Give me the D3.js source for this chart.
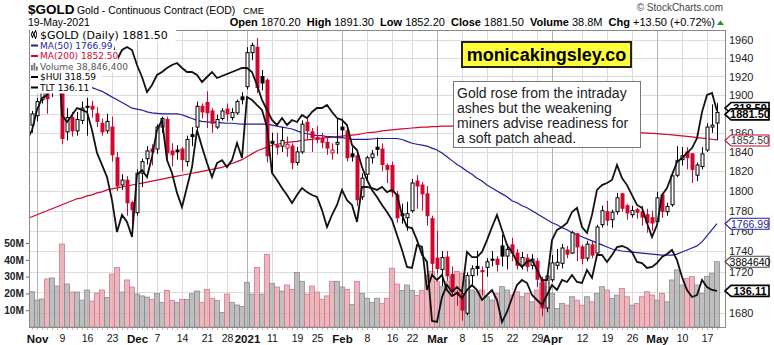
<!DOCTYPE html>
<html><head><meta charset="utf-8">
<script src="https://cdn.jsdelivr.net/npm/d3@7/dist/d3.min.js"></script>
<style>
html,body{margin:0;padding:0;background:#fff;}
svg{display:block;font-family:"Liberation Sans",Arial,sans-serif;}
</style></head><body>
<svg id="chart" width="774" height="345"></svg>
<script>
// Trading days shown on the chart
const dates = [
"2020-10-29","2020-10-30",
"2020-11-02","2020-11-03","2020-11-04","2020-11-05","2020-11-06","2020-11-09","2020-11-10","2020-11-11","2020-11-12","2020-11-13",
"2020-11-16","2020-11-17","2020-11-18","2020-11-19","2020-11-20","2020-11-23","2020-11-24","2020-11-25","2020-11-27","2020-11-30",
"2020-12-01","2020-12-02","2020-12-03","2020-12-04","2020-12-07","2020-12-08","2020-12-09","2020-12-10","2020-12-11","2020-12-14",
"2020-12-15","2020-12-16","2020-12-17","2020-12-18","2020-12-21","2020-12-22","2020-12-23","2020-12-24","2020-12-28","2020-12-29",
"2020-12-30","2020-12-31",
"2021-01-04","2021-01-05","2021-01-06","2021-01-07","2021-01-08","2021-01-11","2021-01-12","2021-01-13","2021-01-14","2021-01-15",
"2021-01-19","2021-01-20","2021-01-21","2021-01-22","2021-01-25","2021-01-26","2021-01-27","2021-01-28","2021-01-29",
"2021-02-01","2021-02-02","2021-02-03","2021-02-04","2021-02-05","2021-02-08","2021-02-09","2021-02-10","2021-02-11","2021-02-12",
"2021-02-16","2021-02-17","2021-02-18","2021-02-19","2021-02-22","2021-02-23","2021-02-24","2021-02-25","2021-02-26",
"2021-03-01","2021-03-02","2021-03-03","2021-03-04","2021-03-05","2021-03-08","2021-03-09","2021-03-10","2021-03-11","2021-03-12",
"2021-03-15","2021-03-16","2021-03-17","2021-03-18","2021-03-19","2021-03-22","2021-03-23","2021-03-24","2021-03-25","2021-03-26",
"2021-03-29","2021-03-30","2021-03-31",
"2021-04-01","2021-04-05","2021-04-06","2021-04-07","2021-04-08","2021-04-09","2021-04-12","2021-04-13","2021-04-14","2021-04-15",
"2021-04-16","2021-04-19","2021-04-20","2021-04-21","2021-04-22","2021-04-23","2021-04-26","2021-04-27","2021-04-28","2021-04-29",
"2021-04-30",
"2021-05-03","2021-05-04","2021-05-05","2021-05-06","2021-05-07","2021-05-10","2021-05-11","2021-05-12","2021-05-13","2021-05-14",
"2021-05-17","2021-05-18","2021-05-19"];

const priorClose = 1879.2;

const open = [1877,1868,
1878,1895,1908,1905,1947,1955,1861,1876,1862,1873,1888,1888,1880,1870,1862,1866,1834,1806,1811,1788,
1778,1818,1833,1843,1843,1866,1874,1841,1842,1843,1830,1858,1866,1888,1892,1883,1866,1875,1885,1876,1881,1898,
1909,1946,1952,1920,1916,1851,1847,1846,1844,1846,1829,1840,1871,1861,1855,1854,1850,1839,1848,
1866,1862,1838,1836,1794,1817,1834,1845,1843,1826,1826,1796,1777,1773,1780,1810,1806,1797,1772,
1733,1722,1734,1717,1700,1699,1680,1716,1725,1721,1724,1732,1732,1745,1735,1746,1738,1726,1733,1726,1730,1712,1685,
1712,1726,1728,1741,1738,1757,1744,1733,1746,1738,1766,1779,1771,1779,1797,1785,1776,1781,1779,1776,1773,
1769,1796,1779,1786,1816,1832,1840,1838,1816,1825,1842,1866,1870.2];

const high = [1880,1883,
1897,1913,1920,1952,1965,1966,1886,1882,1882,1893,1897,1894,1887,1875,1880,1877,1840,1817,1815,1790,
1822,1833,1846,1848,1869,1877,1877,1849,1847,1845,1857,1866,1893,1891,1904,1886,1879,1886,1891,1886,1895,1903,
1952,1957,1962,1927,1918,1860,1860,1866,1856,1849,1845,1873,1875,1865,1867,1860,1856,1849,1875,
1875,1864,1845,1839,1818,1836,1842,1855,1849,1828,1830,1800,1787,1789,1812,1816,1809,1805,1775,
1760,1740,1740,1725,1702,1701,1719,1726,1740,1725,1733,1740,1735,1756,1747,1753,1742,1739,1737,1737,1733,1715,1718,
1736,1742,1747,1745,1760,1758,1746,1750,1750,1766,1785,1790,1781,1798,1798,1787,1785,1783,1785,1782,1780,
1799,1798,1788,1817,1846,1845,1845,1839,1829,1845,1870,1890,1891.3];

const low = [1859,1860,
1872,1891,1880,1898,1936,1848,1852,1856,1857,1869,1857,1876,1866,1857,1859,1830,1800,1801,1775,1767,
1775,1804,1827,1826,1838,1860,1832,1825,1832,1820,1825,1846,1862,1875,1865,1860,1864,1873,1872,1873,1879,1890,
1906,1938,1902,1905,1829,1818,1837,1840,1835,1822,1826,1838,1853,1840,1849,1844,1837,1832,1838,
1855,1830,1830,1785,1791,1810,1828,1836,1820,1808,1794,1768,1767,1760,1778,1782,1780,1765,1717,
1718,1706,1711,1697,1687,1673,1678,1707,1716,1697,1715,1725,1720,1725,1722,1730,1722,1722,1720,1722,1705,1677,1681,
1710,1722,1723,1733,1737,1730,1727,1730,1733,1735,1763,1765,1763,1776,1779,1771,1773,1772,1765,1758,1760,
1766,1773,1775,1784,1814,1826,1822,1808,1810,1822,1840,1860,1852.2];

const close = [1867,1879.9,
1893,1910,1896,1946,1951,1854,1876,1862,1874,1886,1887.5,1885,1872,1861,1872,1837,1805,1811,1788,1781,
1818,1830,1841,1840,1866,1875,1839,1837,1840,1832,1853,1856,1888,1882,1881,1870,1874,1883,1880,1881.5,1893,1895,
1946,1954,1908,1913,1836,1849,1845,1852,1848,1829,1840,1869,1862,1855,1853,1850,1844,1842,1850,
1863,1834,1835,1791,1813,1834,1838,1842.7,1827,1822,1799,1773,1775,1777,1808,1805,1797,1775,1728,
1723,1733.6,1715.8,1700.7,1698.5,1683,1716,1722.7,1722.9,1719.8,1729.5,1731,1727,1735,1741.6,1738,1726,1733.6,1725,1732,1712.5,1685,1715.6,
1728.4,1729,1743,1737,1758,1744,1732.7,1746.8,1736,1763.7,1780,1770.5,1778.5,1793,1782.5,1777.8,1780.2,1778.5,1773.6,1768,1767.7,
1793,1779.4,1784.3,1815.4,1831,1836,1834,1822,1826.5,1838,1866,1868,1881.5];

// Daily volume, millions of contracts
const volume = [22,21,
16,16.7,28.6,29.2,24.4,49.4,25.6,20.8,20.8,16,22,15.4,20.2,22,17.6,31.5,35.5,20.8,28,23.8,
19.6,18.5,17.8,16.5,20,14.7,21.8,15.9,14.7,16.5,16.5,19.8,21.4,14.7,22.4,17.1,15.9,8.7,19.6,14.7,13.1,12.3,
26.6,19.6,35.5,19.6,43.3,26,23.8,21.4,25,22.4,32.5,27.2,19.6,24.4,20.8,16.5,18.5,27.2,27.2,
23.8,22.4,13.3,27.2,20,17.1,14.7,17.1,14.1,17.1,35,25.6,21.8,25,21.8,18.8,21.8,30.8,33,
27,24,27,30,33,32,28,22,21,22,18,16,20,24,22,19,21,18,20,15,22,26,24,
20,11,14,13,18,16,13,18,15,20,24,22,17,19,23,18,13,14,18,21,19,
16,20,15,28,34,25,29,30,25,20,30,32,38.8464];

const ma50 = [1912,1912,
1911,1911,1911,1911,1911,1910,1910,1910,1910,1909,1909,1908,1906,1904,1901,1898,1895,1892,1889,1886,
1885,1884,1882,1881,1880.5,1880,1880,1880,1880,1879,1877,1875,1873,1872,1871.5,1871,1871,1870.5,1870,1870,1869.5,1869,
1869,1869,1869,1869,1869,1868,1867,1866,1865,1864,1862,1860,1859,1858,1857,1857,1856,1856,1855,
1855,1854,1853,1853,1853,1853,1853.5,1854,1854,1854,1854,1854,1853,1851,1849,1848,1847,1846,1844,
1842,1839,1835,1831,1827,1824,1820,1817,1813,1810,1806,1803,1800,1797,1794,1790,1788,1785,1783,1780,1777,1774,1771,
1768,1766,1763,1761,1758,1756,1754,1752,1750,1748,1746,1744,1742,1741,1740,1739.5,1739,1738.5,1738,1737.5,1737,
1736.5,1736,1736,1736,1737,1739,1741,1743,1745,1749,1755,1761,1766.99];

const ma200 = [1772,1774,
1776,1778,1780,1782,1784,1786,1788,1790,1792,1793,1795,1796,1798,1799,1801,1802,1803,1804,1805,1806,
1807,1808,1809,1810,1811,1812,1813,1814,1815,1816,1817,1818,1819,1820,1821,1822,1823,1824,1826,1828,1830,1832,
1835,1838,1841,1843,1845,1847,1848,1849,1850,1850.5,1851,1852,1852.5,1853,1854,1854.5,1855,1855.5,1856,
1856.5,1857,1857.5,1858,1859,1860,1860.5,1861,1862,1862.5,1863,1863.5,1864,1864.5,1865,1865.5,1866,1866,1866.5,
1866.5,1867,1867,1867,1867,1867,1867,1867,1867,1867,1867,1866.8,1866.6,1866.4,1866.2,1866,1865.8,1865.6,1865.4,1865.2,1865,1864.8,1864.6,
1864.4,1864.2,1864,1863.8,1863.6,1863.4,1863.2,1863,1862.8,1862.5,1862.2,1862,1861.7,1861.4,1861.1,1860.8,1860.5,1860.2,1859.9,1859.6,1859.3,
1859,1858.6,1858.2,1857.8,1857.3,1856.8,1856.2,1855.6,1855,1854.4,1853.8,1853.2,1852.5];

// Gold miners index and 20+ year Treasury ETF overlays
const hui = [307.8,311.5,
319.0,323.4,324.6,343.2,345.8,317.1,314.5,317.1,319.7,319.0,318.2,311.5,303.0,298.5,294.0,285.4,273.5,279.9,277.3,271.7,
294.8,296.6,294.0,301.5,311.5,315.2,300.3,295.5,288.1,282.8,290.3,297.7,311.5,305.2,299.2,294.0,299.2,300.3,297.7,300.3,306.7,301.1,
323.8,322.7,320.8,319.0,312.6,295.5,292.9,289.9,287.3,284.3,287.3,289.9,288.4,287.3,286.6,281.7,275.4,279.9,283.6,
289.2,285.4,283.6,277.3,290.3,290.3,289.9,289.2,290.3,288.4,289.2,287.3,279.9,275.4,275.0,270.5,265.0,262.4,240.4,
240.0,249.3,253.8,251.2,253.0,251.2,266.1,264.2,264.2,266.1,270.5,275.4,279.9,274.3,268.7,266.1,262.4,260.5,262.4,263.1,259.4,255.6,255.6,
270.5,274.3,275.4,276.9,281.0,282.5,275.4,273.2,279.9,289.2,291.0,291.8,292.9,298.5,293.6,291.0,287.3,283.6,282.5,276.9,271.7,
276.1,287.3,289.9,294.8,299.6,301.1,303.0,304.8,308.5,318.2,324.6,325.3,318.59];

const tlt = [158.2,158.0,
158.2,157.7,161.2,161.4,160.0,156.7,156.2,156.4,159.2,159.4,159.0,160.0,160.2,160.4,160.7,161.0,159.2,160.2,160.5,160.2,
158.7,157.5,156.0,156.7,157.7,158.0,158.4,158.7,158.9,158.4,158.0,158.0,157.7,157.0,157.5,158.0,157.4,157.6,157.8,158.0,158.2,158.4,
158.4,158.0,156.7,155.2,154.2,153.2,152.7,153.4,152.7,153.2,153.0,153.7,153.4,154.0,154.4,154.4,154.7,154.0,153.4,
153.2,152.7,150.7,150.2,148.5,147.2,146.2,145.5,144.7,144.0,143.2,141.7,140.2,138.5,138.4,140.7,140.5,136.2,137.7,
137.2,137.7,136.2,135.6,135.9,135.4,136.2,136.7,136.2,135.2,135.7,136.2,135.2,133.0,134.0,135.4,136.7,137.2,136.9,135.7,135.2,134.7,135.7,
136.7,136.2,137.2,137.0,137.7,137.0,136.9,138.2,137.4,139.7,139.7,139.0,139.7,140.5,140.6,140.4,140.0,139.0,138.9,138.4,138.5,
138.9,139.5,139.8,140.2,139.2,137.5,136.2,135.5,135.7,137.2,136.5,136.2,136.11];

const priceTicks = [1680,1700,1720,1740,1760,1780,1800,1820,1840,1860,1880,1900,1920,1940,1960];
const volumeTicks = [10,20,30,40,50];
const dateLabels = [
["2020-11-02","Nov",true],["2020-11-09","9",false],["2020-11-16","16",false],["2020-11-23","23",false],
["2020-12-01","Dec",true],["2020-12-07","7",false],["2020-12-14","14",false],["2020-12-21","21",false],["2020-12-28","28",false],
["2021-01-04","2021",true],["2021-01-11","11",false],["2021-01-19","19",false],["2021-01-25","25",false],
["2021-02-01","Feb",true],["2021-02-08","8",false],["2021-02-16","16",false],["2021-02-22","22",false],
["2021-03-01","Mar",true],["2021-03-08","8",false],["2021-03-15","15",false],["2021-03-22","22",false],["2021-03-29","29",false],
["2021-04-01","Apr",true],["2021-04-12","12",false],["2021-04-19","19",false],["2021-04-26","26",false],
["2021-05-03","May",true],["2021-05-10","10",false],["2021-05-17","17",false]];

const note = ["Gold rose from the intraday","ashes but the weakening","miners advise readiness for","a soft patch ahead."];

// ---------------------------------------------------------------
const svg = d3.select("#chart");
const P = {left: 29, right: 726, top: 30, bottom: 327};
const n = dates.length;
const idx = d3.range(n);

const x = d3.scaleLinear().domain([0, n - 1]).range([27, 717]);
const y = d3.scaleLog().domain([1667, 1971]).range([P.bottom, P.top]);
const yVol = d3.scaleLinear().domain([0, 176.8]).range([P.bottom, P.top]);
const yHui = d3.scaleLinear().domain(d3.extent(hui)).range([322, 38]);
const yTlt = d3.scaleLinear().domain(d3.extent(tlt)).range([322, 38]);

const RED = "#d1062f", BLUE = "#1f1f9e";
const prevClose = i => i === 0 ? priorClose : close[i - 1];

svg.append("defs").append("clipPath").attr("id", "plot")
  .append("rect").attr("x", P.left).attr("y", P.top)
  .attr("width", P.right - P.left).attr("height", P.bottom - P.top);

// header
const head = svg.append("g");
head.append("text").attr("x", 28).attr("y", 14).attr("font-size", 13.5).attr("font-weight", "bold").text("$GOLD");
head.append("text").attr("x", 77).attr("y", 14).attr("font-size", 10.4).text("Gold - Continuous Contract (EOD)");
head.append("text").attr("x", 243).attr("y", 14).attr("font-size", 9.5).text("CME");
head.append("text").attr("x", 723).attr("y", 11).attr("font-size", 10).attr("fill", "#444")
  .attr("text-anchor", "end").text("\u00A9 StockCharts.com");
head.append("text").attr("x", 28).attr("y", 26).attr("font-size", 10.5).text("19-May-2021");
const ohlc = head.append("text").attr("x", 715).attr("y", 26).attr("font-size", 11).attr("text-anchor", "end");
[["Open", " 1870.20  "], ["High", " 1891.30  "], ["Low", " 1852.20  "], ["Close", " 1881.50  "],
 ["Volume", " 38.8M  "], ["Chg", " +13.50 (+0.72%)"]].forEach(([k, v]) => {
  ohlc.append("tspan").attr("font-weight", "bold").text(k);
  ohlc.append("tspan").attr("xml:space", "preserve").text(v);
});
head.append("path").attr("d", "M717,25 L724,25 L720.5,20.5 Z").attr("fill", "#2e8b2e");

// grid
const grid = svg.append("g");
grid.selectAll("line.h").data(priceTicks).join("line")
  .attr("x1", P.left).attr("x2", P.right).attr("y1", d => Math.round(y(d)) + 0.5).attr("y2", d => Math.round(y(d)) + 0.5)
  .attr("stroke", "#dcdcdc");
grid.selectAll("line.v").data(dateLabels).join("line")
  .attr("x1", d => Math.round(x(dates.indexOf(d[0]))) + 0.5).attr("x2", d => Math.round(x(dates.indexOf(d[0]))) + 0.5)
  .attr("y1", P.top).attr("y2", P.bottom)
  .attr("stroke", d => d[2] ? "#b4b4b4" : "#dcdcdc");

const plot = svg.append("g").attr("clip-path", "url(#plot)");

// volume bars
plot.selectAll("rect.vol").data(idx).join("rect")
  .attr("x", i => x(i) - 2.5).attr("width", 5)
  .attr("y", i => yVol(volume[i])).attr("height", i => P.bottom - yVol(volume[i]))
  .attr("fill", i => close[i] < prevClose(i) ? "#e3a1ab" : "#a9a9a9")
  .attr("fill-opacity", 0.75)
  .attr("stroke", i => close[i] < prevClose(i) ? "#d5788a" : "#8c8c8c")
  .attr("stroke-width", 0.8);

// moving averages
const lineOf = (vals, sc) => d3.line().x((d, i) => x(i)).y(d => sc(d))(vals);
plot.append("path").attr("d", lineOf(ma200, y)).attr("fill", "none").attr("stroke", RED).attr("stroke-width", 1.2);
plot.append("path").attr("d", lineOf(ma50, y)).attr("fill", "none").attr("stroke", BLUE).attr("stroke-width", 1.2);

// candlesticks
const candles = plot.selectAll("g.c").data(idx).join("g");
candles.append("line")
  .attr("x1", i => Math.round(x(i)) + 0.5).attr("x2", i => Math.round(x(i)) + 0.5)
  .attr("y1", i => y(high[i])).attr("y2", i => y(low[i]))
  .attr("stroke", i => close[i] < prevClose(i) ? RED : "#000");
candles.append("rect")
  .attr("x", i => Math.round(x(i)) - 1)
  .attr("width", 3)
  .attr("y", i => y(Math.max(open[i], close[i])))
  .attr("height", i => Math.max(1, y(Math.min(open[i], close[i])) - y(Math.max(open[i], close[i]))))
  .attr("fill", i => close[i] < open[i] ? (close[i] < prevClose(i) ? RED : "#000") : "#fff")
  .attr("stroke", i => close[i] < prevClose(i) ? RED : "#000");

// overlays
plot.append("path").attr("d", lineOf(hui, yHui)).attr("fill", "none").attr("stroke", "#111").attr("stroke-width", 1.8);
plot.append("path").attr("d", lineOf(tlt, yTlt)).attr("fill", "none").attr("stroke", "#111").attr("stroke-width", 1.8);

// frame
svg.append("rect").attr("x", P.left + 0.5).attr("y", P.top + 0.5)
  .attr("width", P.right - P.left - 1).attr("height", P.bottom - P.top)
  .attr("fill", "none").attr("stroke", "#8a8a8a");

// right price axis
const ax = svg.append("g").attr("transform", `translate(${P.right},0)`)
  .call(d3.axisRight(y).tickValues(priceTicks).tickSize(0).tickPadding(3).tickFormat(d3.format("d")));
ax.select(".domain").remove();
ax.selectAll("text").attr("font-size", 11).attr("fill", "#222").attr("font-family", "Liberation Sans, Arial, sans-serif");

// left volume axis
const vax = svg.append("g").attr("transform", `translate(${P.left},0)`)
  .call(d3.axisLeft(yVol).tickValues(volumeTicks).tickSize(3).tickPadding(2).tickFormat(d => d + "M"));
vax.select(".domain").remove();
vax.selectAll("line").attr("stroke", "#666");
vax.selectAll("text").attr("font-size", 10.2).attr("font-weight", "bold").attr("fill", "#222")
  .attr("font-family", "Liberation Sans, Arial, sans-serif");

// bottom date axis
const bax = svg.append("g").attr("transform", `translate(0,${P.bottom})`)
  .call(d3.axisBottom(x).tickValues(dateLabels.map(d => dates.indexOf(d[0]))).tickSize(0).tickPadding(8)
    .tickFormat((d, k) => dateLabels[k][1]));
bax.select(".domain").remove();
bax.selectAll("text").attr("font-size", (d, k) => dateLabels[k][2] ? 11.5 : 10.5)
  .attr("font-weight", (d, k) => dateLabels[k][2] ? "bold" : "normal")
  .attr("fill", "#111").attr("font-family", "Liberation Sans, Arial, sans-serif");
svg.append("g").selectAll("line").data(idx.filter(i => x(i) > P.left)).join("line")
  .attr("x1", i => Math.round(x(i)) + 0.5).attr("x2", i => Math.round(x(i)) + 0.5)
  .attr("y1", P.bottom + 1).attr("y2", P.bottom + 3).attr("stroke", "#bbb");

// value tags at the right edge
function tag(cy, label, stroke, color, bold) {
  const g = svg.append("g");
  g.append("path")
    .attr("d", `M${P.right - 1},${cy} L${P.right + 5},${cy - 5.5} L${P.right + 43},${cy - 5.5} L${P.right + 43},${cy + 5.5} L${P.right + 5},${cy + 5.5} Z`)
    .attr("fill", "#fff").attr("stroke", stroke).attr("stroke-width", bold ? 1.6 : 1.1);
  g.append("text").attr("x", P.right + 24).attr("y", cy + 4).attr("text-anchor", "middle")
    .attr("font-size", bold ? 11 : 10.5).attr("font-weight", bold ? "bold" : "normal").attr("fill", color).text(label);
}
const last = n - 1;
tag(yHui(hui[last]) - 3, hui[last].toFixed(2), "#000", "#000", true);
tag(y(close[last]) + 2, close[last].toFixed(2), "#000", "#000", true);
tag(y(ma200[last]) + 0.5, ma200[last].toFixed(2), RED, "#333", false);
tag(y(ma50[last]), ma50[last].toFixed(2), BLUE, BLUE, false);
tag(yVol(volume[last]), Math.round(volume[last] * 100000).toString(), "#444", "#000", false);
tag(yTlt(tlt[last]), tlt[last].toFixed(2), "#000", "#000", true);

// legend
const leg = svg.append("g").attr("font-family", "DejaVu Sans, Verdana, sans-serif");
const rows = [
  {text: "$GOLD (Daily) " + close[last].toFixed(2), color: "#000", size: 11, cy: 35, w: 146},
  {text: "MA(50) " + ma50[last].toFixed(2), color: BLUE, size: 9, cy: 45.5, w: 84, dash: BLUE},
  {text: "MA(200) " + ma200[last].toFixed(2), color: RED, size: 9, cy: 56, w: 88, dash: RED},
  {text: "Volume " + d3.format(",")(Math.round(volume[last] * 1e6)), color: "#555", size: 9, cy: 66.5, w: 96},
  {text: "$HUI " + hui[last].toFixed(2), color: "#000", size: 9, cy: 77, w: 72, dash: "#000"},
  {text: "TLT " + tlt[last].toFixed(2), color: "#000", size: 9, cy: 87.5, w: 62, dash: "#000"}];
rows.forEach(r => {
  leg.append("rect").attr("x", P.left + 1).attr("y", r.cy - 6).attr("width", r.w).attr("height", 12).attr("fill", "#fff");
});
rows.forEach(r => {
  leg.append("text").attr("x", 40).attr("y", r.cy + (r.size > 10 ? 4 : 3.3)).attr("font-size", r.size).attr("fill", r.color).text(r.text);
  if (r.dash) leg.append("line").attr("x1", 31).attr("x2", 38).attr("y1", r.cy).attr("y2", r.cy).attr("stroke", r.dash).attr("stroke-width", 2);
});
// small candle icon and volume icon
[[32, 31, 38, 33, 36], [35, 30, 39, 32, 37]].forEach(([cx, hi, lo, t, b]) => {
  leg.append("line").attr("x1", cx + 0.5).attr("x2", cx + 0.5).attr("y1", hi).attr("y2", lo).attr("stroke", "#000");
  leg.append("rect").attr("x", cx - 0.5).attr("y", t).attr("width", 2).attr("height", b - t).attr("fill", "#fff").attr("stroke", "#000").attr("stroke-width", 0.8);
});
[[31, 65], [33.5, 63], [36, 66.5]].forEach(([bx, by]) => {
  leg.append("rect").attr("x", bx).attr("y", by).attr("width", 1.8).attr("height", 70.5 - by).attr("fill", "#777");
});

// branding box
svg.append("rect").attr("x", 462).attr("y", 42).attr("width", 169).attr("height", 25)
  .attr("fill", "#ffff3a").attr("stroke", "#222").attr("stroke-width", 2);
svg.append("text").attr("x", 546.5).attr("y", 61).attr("text-anchor", "middle")
  .attr("font-size", 18).attr("font-weight", "bold").attr("fill", "#000").text("monicakingsley.co");

// commentary box
svg.append("rect").attr("x", 453.5).attr("y", 81.5).attr("width", 187).attr("height", 66)
  .attr("fill", "#fff").attr("stroke", "#777");
svg.append("g").selectAll("text").data(note).join("text")
  .attr("x", 457).attr("y", (d, k) => 98 + k * 15)
  .attr("font-size", 14).attr("fill", "#222").text(d => d);
</script>
</body></html>
